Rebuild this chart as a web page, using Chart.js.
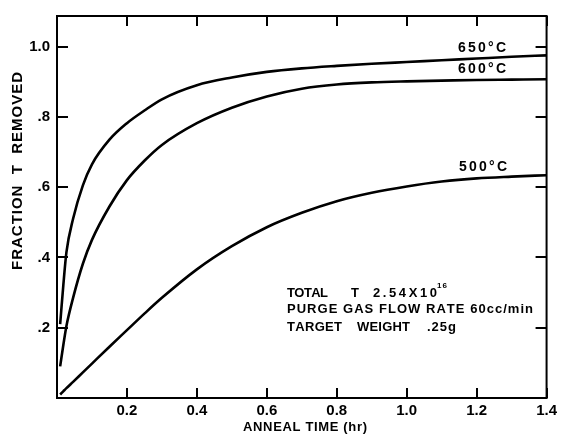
<!DOCTYPE html>
<html>
<head>
<meta charset="utf-8">
<script src="https://cdn.jsdelivr.net/npm/chart.js@4.4.1/dist/chart.umd.min.js"></script>
<style>
  html, body { margin: 0; padding: 0; background: #fff; }
</style>
</head>
<body>
<canvas id="chart" width="561" height="435"></canvas>
<script>
// anneal time (hr) and fraction of T removed
const annealTime = [0.009, 0.018, 0.027, 0.046, 0.074, 0.1, 0.15, 0.2, 0.25, 0.3, 0.4, 0.5, 0.6, 0.7, 0.8, 0.9, 1.0, 1.1, 1.2, 1.3, 1.4];
const removed650 = [0.21, 0.32, 0.415, 0.51, 0.605, 0.665, 0.735, 0.782, 0.818, 0.85, 0.89, 0.912, 0.928, 0.938, 0.945, 0.951, 0.956, 0.961, 0.966, 0.971, 0.975];
const removed600 = [0.09, 0.15, 0.205, 0.285, 0.382, 0.45, 0.545, 0.62, 0.675, 0.72, 0.782, 0.826, 0.858, 0.88, 0.892, 0.898, 0.901, 0.903, 0.905, 0.906, 0.907];
const removed500 = [0.01, 0.019, 0.028, 0.046, 0.073, 0.098, 0.146, 0.193, 0.24, 0.285, 0.366, 0.432, 0.486, 0.527, 0.56, 0.584, 0.602, 0.616, 0.625, 0.63, 0.634];
const curveLabels = ["650°C", "600°C", "500°C"];

const xTicks = [0.2, 0.4, 0.6, 0.8, 1.0, 1.2, 1.4];
const xTickLabels = ["0.2", "0.4", "0.6", "0.8", "1.0", "1.2", "1.4"];
const yTicks = [0.2, 0.4, 0.6, 0.8, 1.0];
const yTickLabels = [".2", ".4", ".6", ".8", "1.0"];

const toPoints = ys => annealTime.map((x, i) => ({ x: x, y: ys[i] }));

// draw text spread out to a given width (the lettering on the plot is widely spaced)
function spacedText(ctx, text, x, y, width, align) {
  const chars = Array.from(text);
  const widths = chars.map(c => ctx.measureText(c).width);
  const total = widths.reduce((a, b) => a + b, 0);
  const gap = chars.length > 1 ? (width - total) / (chars.length - 1) : 0;
  let cx = align === "center" ? x - width / 2 : x;
  ctx.textAlign = "left";
  chars.forEach((c, i) => {
    ctx.fillText(c, cx, y);
    cx += widths[i] + gap;
  });
}

const frameAndText = {
  id: "frameAndText",
  afterDraw(chart) {
    const ctx = chart.ctx;
    const a = chart.chartArea;
    const xs = chart.scales.x, ys = chart.scales.y;
    ctx.save();
    ctx.strokeStyle = "#000";
    ctx.fillStyle = "#000";

    // frame
    ctx.lineWidth = 2;
    ctx.strokeRect(a.left, a.top, a.right - a.left, a.bottom - a.top);

    // inward tick marks on all four sides
    for (let i = 0; i < xTicks.length; i++) {
      const px = Math.round(xs.getPixelForValue(xTicks[i]));
      ctx.fillRect(px - 1, a.bottom - 10, 2, 10);
      ctx.fillRect(px - 1, a.top, 2, 10);
    }
    for (let i = 0; i < yTicks.length; i++) {
      const py = Math.round(ys.getPixelForValue(yTicks[i]));
      ctx.fillRect(a.left, py - 1, 11, 2);
      ctx.fillRect(a.right - 11, py - 1, 11, 2);
    }

    // curve labels
    ctx.textBaseline = "middle";
    ctx.font = 'bold 14px "Liberation Sans"';
    spacedText(ctx, curveLabels[0], 482, 48, 48, "center");
    spacedText(ctx, curveLabels[1], 482, 69, 48, "center");
    spacedText(ctx, curveLabels[2], 483, 167, 48, "center");

    // note block
    ctx.font = 'bold 13px "Liberation Sans"';
    spacedText(ctx, "TOTAL", 287, 293, 41, "left");
    spacedText(ctx, "T", 351, 293, 9, "left");
    spacedText(ctx, "2.54X10", 373, 293, 64, "left");
    ctx.font = 'bold 8px "Liberation Sans"';
    spacedText(ctx, "16", 437, 286, 10, "left");
    ctx.font = 'bold 13px "Liberation Sans"';
    spacedText(ctx, "PURGE GAS FLOW RATE 60cc/min", 287, 309, 246, "left");
    spacedText(ctx, "TARGET", 287, 327, 55, "left");
    spacedText(ctx, "WEIGHT", 357, 327, 53, "left");
    spacedText(ctx, ".25g", 427, 327, 29, "left");

    // axis titles
    ctx.font = 'bold 13px "Liberation Sans"';
    spacedText(ctx, "ANNEAL TIME (hr)", 305, 427, 124, "center");
    ctx.font = 'bold 15px "Liberation Sans"';
    ctx.translate(18, 171);
    ctx.rotate(-Math.PI / 2);
    spacedText(ctx, "FRACTION  T  REMOVED", 0, 0, 198, "center");
    ctx.restore();
  }
};

const lineStyle = {
  borderColor: "#000",
  borderWidth: 2.6,
  pointRadius: 0,
  fill: false,
  cubicInterpolationMode: "monotone"
};

new Chart(document.getElementById("chart").getContext("2d"), {
  type: "line",
  data: {
    datasets: [
      Object.assign({ label: curveLabels[0], data: toPoints(removed650) }, lineStyle),
      Object.assign({ label: curveLabels[1], data: toPoints(removed600) }, lineStyle),
      Object.assign({ label: curveLabels[2], data: toPoints(removed500) }, lineStyle)
    ]
  },
  options: {
    responsive: false,
    animation: false,
    devicePixelRatio: 1,
    layout: { padding: { left: 0, right: 9, top: 12, bottom: 0 } },
    plugins: {
      legend: { display: false },
      tooltip: { enabled: false }
    },
    scales: {
      x: {
        type: "linear",
        min: 0,
        max: 1.4,
        afterBuildTicks: s => { s.ticks = xTicks.map(v => ({ value: v })); },
        afterFit: s => { s.height = 37; },
        grid: { display: false, drawTicks: false },
        border: { display: false },
        ticks: {
          color: "#000",
          font: { family: "Liberation Sans", size: 15, weight: "bold" },
          padding: 4,
          maxRotation: 0,
          autoSkip: false,
          callback: v => xTickLabels[xTicks.indexOf(v)]
        }
      },
      y: {
        type: "linear",
        min: 0,
        max: 1.087,
        afterBuildTicks: s => { s.ticks = yTicks.map(v => ({ value: v })); },
        afterFit: s => { s.width = 57; },
        grid: { display: false, drawTicks: false },
        border: { display: false },
        ticks: {
          color: "#000",
          font: { family: "Liberation Sans", size: 15, weight: "bold" },
          padding: 7,
          autoSkip: false,
          callback: v => yTickLabels[yTicks.indexOf(v)]
        }
      }
    }
  },
  plugins: [frameAndText]
});
</script>
</body>
</html>
